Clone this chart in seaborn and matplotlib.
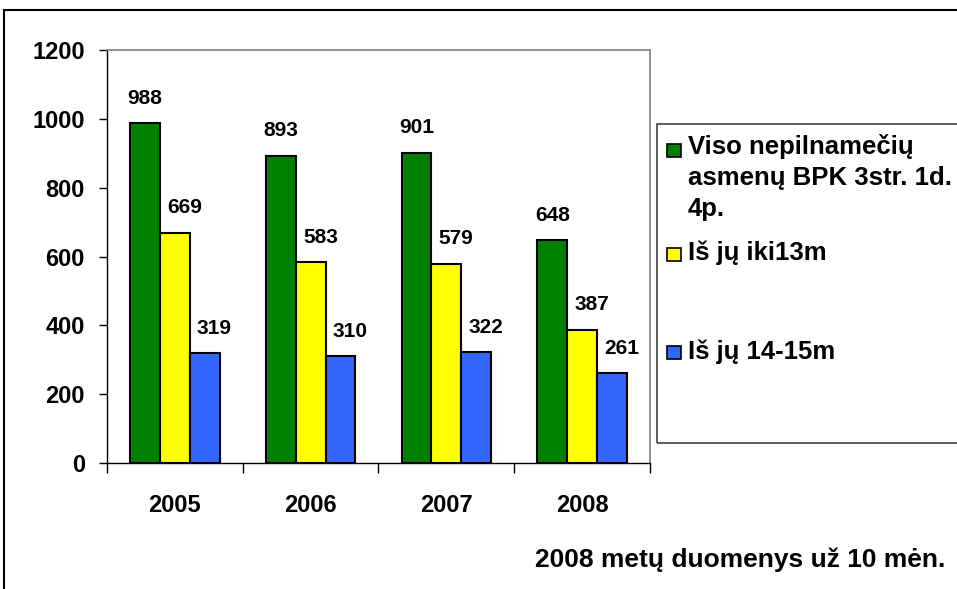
import matplotlib
matplotlib.use('Agg')
import matplotlib.pyplot as plt
import seaborn as sns
import pandas as pd
from matplotlib.patches import Rectangle

# ---- data ----
years = ['2005', '2006', '2007', '2008']
series = ['Viso nepilnamečių\nasmenų BPK 3str. 1d.\n4p.', 'Iš jų iki13m', 'Iš jų 14-15m']
total = [988, 893, 901, 648]
under13 = [669, 583, 579, 387]
age14_15 = [319, 310, 322, 261]
colors = ['#008000', '#FFFF00', '#3366FF']
yticks = [0, 200, 400, 600, 800, 1000, 1200]
footnote = '2008 metų duomenys už 10 mėn.'

sns.set_theme(style='white')
plt.rcParams['font.family'] = ['Liberation Sans', 'DejaVu Sans']
plt.rcParams['font.weight'] = 'bold'
for k in ['text.color', 'axes.labelcolor', 'xtick.color', 'ytick.color']:
    plt.rcParams[k] = 'black'

df = pd.DataFrame({
    'year': years * 3,
    'series': [s for s in series for _ in years],
    'value': total + under13 + age14_15,
})

W, H = 957, 589
fig = plt.figure(figsize=(W / 100, H / 100), dpi=100)
fig.patch.set_facecolor('white')
ax = fig.add_axes([107 / W, 1 - 463 / H, 543 / W, 413 / H])

sns.barplot(data=df, x='year', y='value', hue='series', order=years,
            hue_order=series, palette=colors, width=0.66, gap=0,
            edgecolor='black', linewidth=1.5, saturation=1,
            errorbar=None, legend=False, ax=ax)

# data labels
dx = [0, 7, 7]
for i, cont in enumerate(ax.containers):
    for bar in cont:
        h = bar.get_height()
        xc = bar.get_x() + bar.get_width() / 2
        ax.annotate(f'{int(round(h))}', (xc, h), xytext=(dx[i], 14),
                    textcoords='offset points', ha='center', va='baseline',
                    fontsize=15, fontweight='bold', color='black')

ax.set_xlim(-0.5, 3.5)
ax.set_ylim(0, 1200)
ax.set_yticks(yticks)
ax.set_xlabel('')
ax.set_ylabel('')
ax.set_xticks(range(len(years)))
ax.set_xticklabels(years)
ax.set_xticks([i - 0.5 for i in range(len(years) + 1)], minor=True)
ax.tick_params(axis='y', direction='out', length=6, width=1, color='black',
               labelcolor='black', labelsize=17, pad=10, left=True)
ax.tick_params(axis='x', which='major', length=0, pad=22, labelsize=17,
               labelcolor='black')
ax.tick_params(axis='x', which='minor', length=7, width=1, direction='out',
               color='black', bottom=True)
for t in ax.get_xticklabels() + ax.get_yticklabels():
    t.set_fontweight('bold')

for side in ['left', 'bottom']:
    ax.spines[side].set_color('black')
    ax.spines[side].set_linewidth(1)
for side in ['top', 'right']:
    ax.spines[side].set_visible(True)
    ax.spines[side].set_color('#808080')
    ax.spines[side].set_linewidth(1.2)


def fx(px):
    return px / W


def fy(py):
    return 1 - py / H


# outer chart border (right/bottom outside the image)
fig.add_artist(Rectangle((fx(4), fy(620)), fx(1000 - 4), (620 - 10) / H,
                         transform=fig.transFigure, fill=False,
                         edgecolor='black', lw=1.5, clip_on=False))

# legend box
fig.add_artist(Rectangle((fx(657), fy(443)), fx(1000 - 657), (443 - 124) / H,
                         transform=fig.transFigure, fill=False,
                         edgecolor='#404040', lw=1.2, clip_on=False))

sq_y = [150, 254, 352]
txt_y = [177.5, 253, 352]
for i, s in enumerate(series):
    fig.add_artist(Rectangle((fx(667), fy(sq_y[i] + 6.5)), fx(14), 13 / H,
                             transform=fig.transFigure, facecolor=colors[i],
                             edgecolor='black', lw=1.2))
    fig.text(fx(688), fy(txt_y[i]), s, ha='left', va='center', fontsize=18.5,
             fontweight='bold', linespacing=1.38, color='black')

fig.text(fx(945), fy(560), footnote, ha='right', va='center', fontsize=19,
         fontweight='bold', color='black')

fig.savefig('out.png', dpi=100)
